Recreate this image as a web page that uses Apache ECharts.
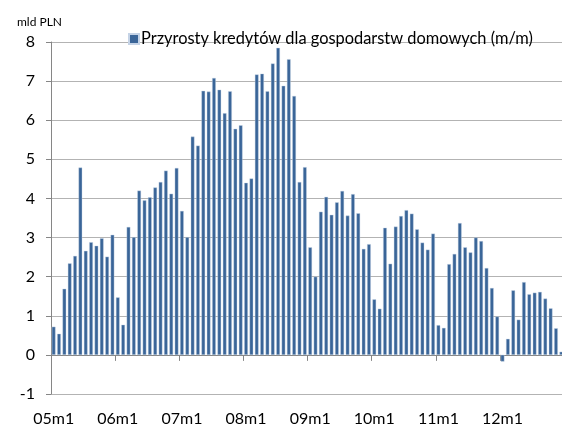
<!DOCTYPE html>
<html>
<head>
<meta charset="utf-8">
<script src="https://cdn.jsdelivr.net/npm/echarts@6/dist/echarts.min.js"></script>
<style>
html,body{margin:0;padding:0;background:#fff;}
#chart{width:562px;height:426px;}
</style>
</head>
<body>
<div id="chart"></div>
<script>
var years = ['05','06','07','08','09','10','11','12'];
var seriesName = 'Przyrosty kredytów dla gospodarstw domowych (m/m)';
var unitLabel = 'mld PLN';
var y2005 = [0.72, 0.54, 1.69, 2.34, 2.53, 4.79, 2.66, 2.88, 2.79, 2.98, 2.51, 3.07];
var y2006 = [1.47, 0.77, 3.27, 3.01, 4.20, 3.95, 4.03, 4.28, 4.42, 4.71, 4.12, 4.78];
var y2007 = [3.68, 3.01, 5.58, 5.35, 6.75, 6.73, 7.08, 6.78, 6.18, 6.74, 5.78, 5.87];
var y2008 = [4.40, 4.51, 7.17, 7.19, 6.74, 7.45, 7.85, 6.88, 7.56, 6.62, 4.42, 4.80];
var y2009 = [2.75, 2.00, 3.66, 4.04, 3.58, 3.90, 4.19, 3.56, 4.11, 3.62, 2.71, 2.83];
var y2010 = [1.42, 1.18, 3.25, 2.33, 3.28, 3.55, 3.70, 3.61, 3.21, 2.87, 2.69, 3.10];
var y2011 = [0.76, 0.69, 2.32, 2.58, 3.37, 2.75, 2.62, 3.00, 2.91, 2.22, 1.71, 0.98];
var y2012 = [-0.17, 0.41, 1.65, 0.90, 1.86, 1.55, 1.59, 1.61, 1.44, 1.19, 0.68, 0.08];

var categories = [];
years.forEach(function (y) {
  for (var m = 1; m <= 12; m++) categories.push(y + 'm' + m);
});
var values = [].concat(y2005, y2006, y2007, y2008, y2009, y2010, y2011, y2012);

var font = 'Lato';
var chart = echarts.init(document.getElementById('chart'), null, {renderer: 'canvas'});
chart.setOption({
  animation: false,
  backgroundColor: '#ffffff',
  textStyle: {fontFamily: font},
  title: {
    text: unitLabel,
    left: 12, top: 11,
    textStyle: {fontFamily: font, fontSize: 12, fontWeight: 'normal', color: '#000'}
  },
  legend: {
    data: [seriesName],
    left: 123, top: 26,
    icon: 'rect',
    itemWidth: 10, itemHeight: 10,
    textStyle: {fontFamily: font, fontSize: 16.4, color: '#000', padding: [0, 0, 0, -3]}
  },
  grid: {left: 51, right: -2, top: 42, bottom: 32, containLabel: false, outerBoundsMode: 'none'},
  xAxis: {
    type: 'category',
    data: categories,
    boundaryGap: true,
    axisLine: {onZero: true, lineStyle: {color: '#868686', width: 1}},
    axisTick: {show: true, interval: 11, length: 6, lineStyle: {color: '#868686'}},
    axisLabel: {interval: 11, margin: 17, fontFamily: font, fontSize: 16, color: '#000'},
    splitLine: {show: false}
  },
  yAxis: {
    type: 'value',
    min: -1, max: 8, interval: 1,
    axisLine: {show: true, lineStyle: {color: '#868686', width: 1}},
    axisTick: {show: true, length: 5, lineStyle: {color: '#868686'}},
    axisLabel: {margin: 16, fontFamily: font, fontSize: 16, color: '#000'},
    splitLine: {show: true, lineStyle: {color: '#b3b3b3', width: 1}}
  },
  series: [{
    name: seriesName,
    type: 'bar',
    data: values,
    barCategoryGap: '32%',
    itemStyle: {color: '#3A6598', borderColor: '#c5d3e6', borderWidth: 0.4}
  }]
});
</script>
</body>
</html>
